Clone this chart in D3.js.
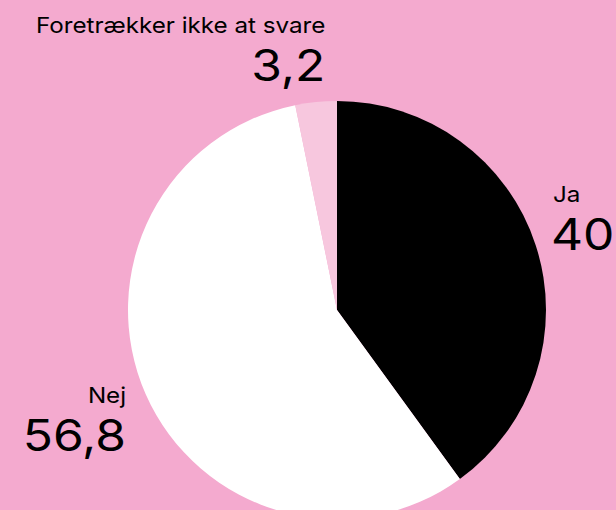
<!DOCTYPE html>
<html><head><meta charset="utf-8">
<script src="https://cdn.jsdelivr.net/npm/d3@7"></script>
<style>html,body{margin:0;padding:0;background:#f4aacf;overflow:hidden}</style>
</head><body>
<svg id="c" width="616" height="510"></svg>
<script>
const categories = ["Ja", "Nej", "Foretrækker ikke at svare"];
const values = [40, 56.8, 3.2];
const valueLabels = ["40", "56,8", "3,2"];
const colors = ["#000000", "#ffffff", "#f7c7de"];

const W = 616, H = 510, cx = 337, cy = 310, R = 209;
const svg = d3.select("#c");
svg.append("rect").attr("width", W).attr("height", H).attr("fill", "#f4aacf");
const g = svg.append("g").attr("transform", `translate(${cx},${cy})`);

const data = categories.map((c, i) => ({c, v: values[i], t: valueLabels[i], col: colors[i]}));
const pie = d3.pie().value(d => d.v).sort(null);
const arc = d3.arc().innerRadius(0).outerRadius(R);
const arcs = pie(data);
g.selectAll("path").data(arcs).join("path").attr("d", arc).attr("fill", d => d.data.col);

const outer = d3.arc().innerRadius(R + 16).outerRadius(R + 16);
const layout = [
  {anchor: "start", dx: 0, dy: 10},
  {anchor: "end", dx: -5, dy: 50},
  {anchor: "end", dx: 11, dy: -5}
];
arcs.forEach((a, i) => {
  const [x, y] = outer.centroid(a);
  const L = layout[i];
  const px = x + L.dx, py = y + L.dy;
  const lab = g.append("g").attr("transform", `translate(${px},${py})`).attr("text-anchor", L.anchor)
    .style("font-family", "Inter, 'Liberation Sans', Arial, sans-serif").attr("fill", "#000");
  lab.append("text").attr("transform", "translate(" + (i === 0 ? 2 : 0) + ",-48) scale(1.1,1)")
    .style("font-size", "22px").text(a.data.c);
  lab.append("text").attr("transform", "scale(1.13,1)").style("font-size", "44px").style("font-weight", 400).text(a.data.t);
});
</script>
</body></html>
